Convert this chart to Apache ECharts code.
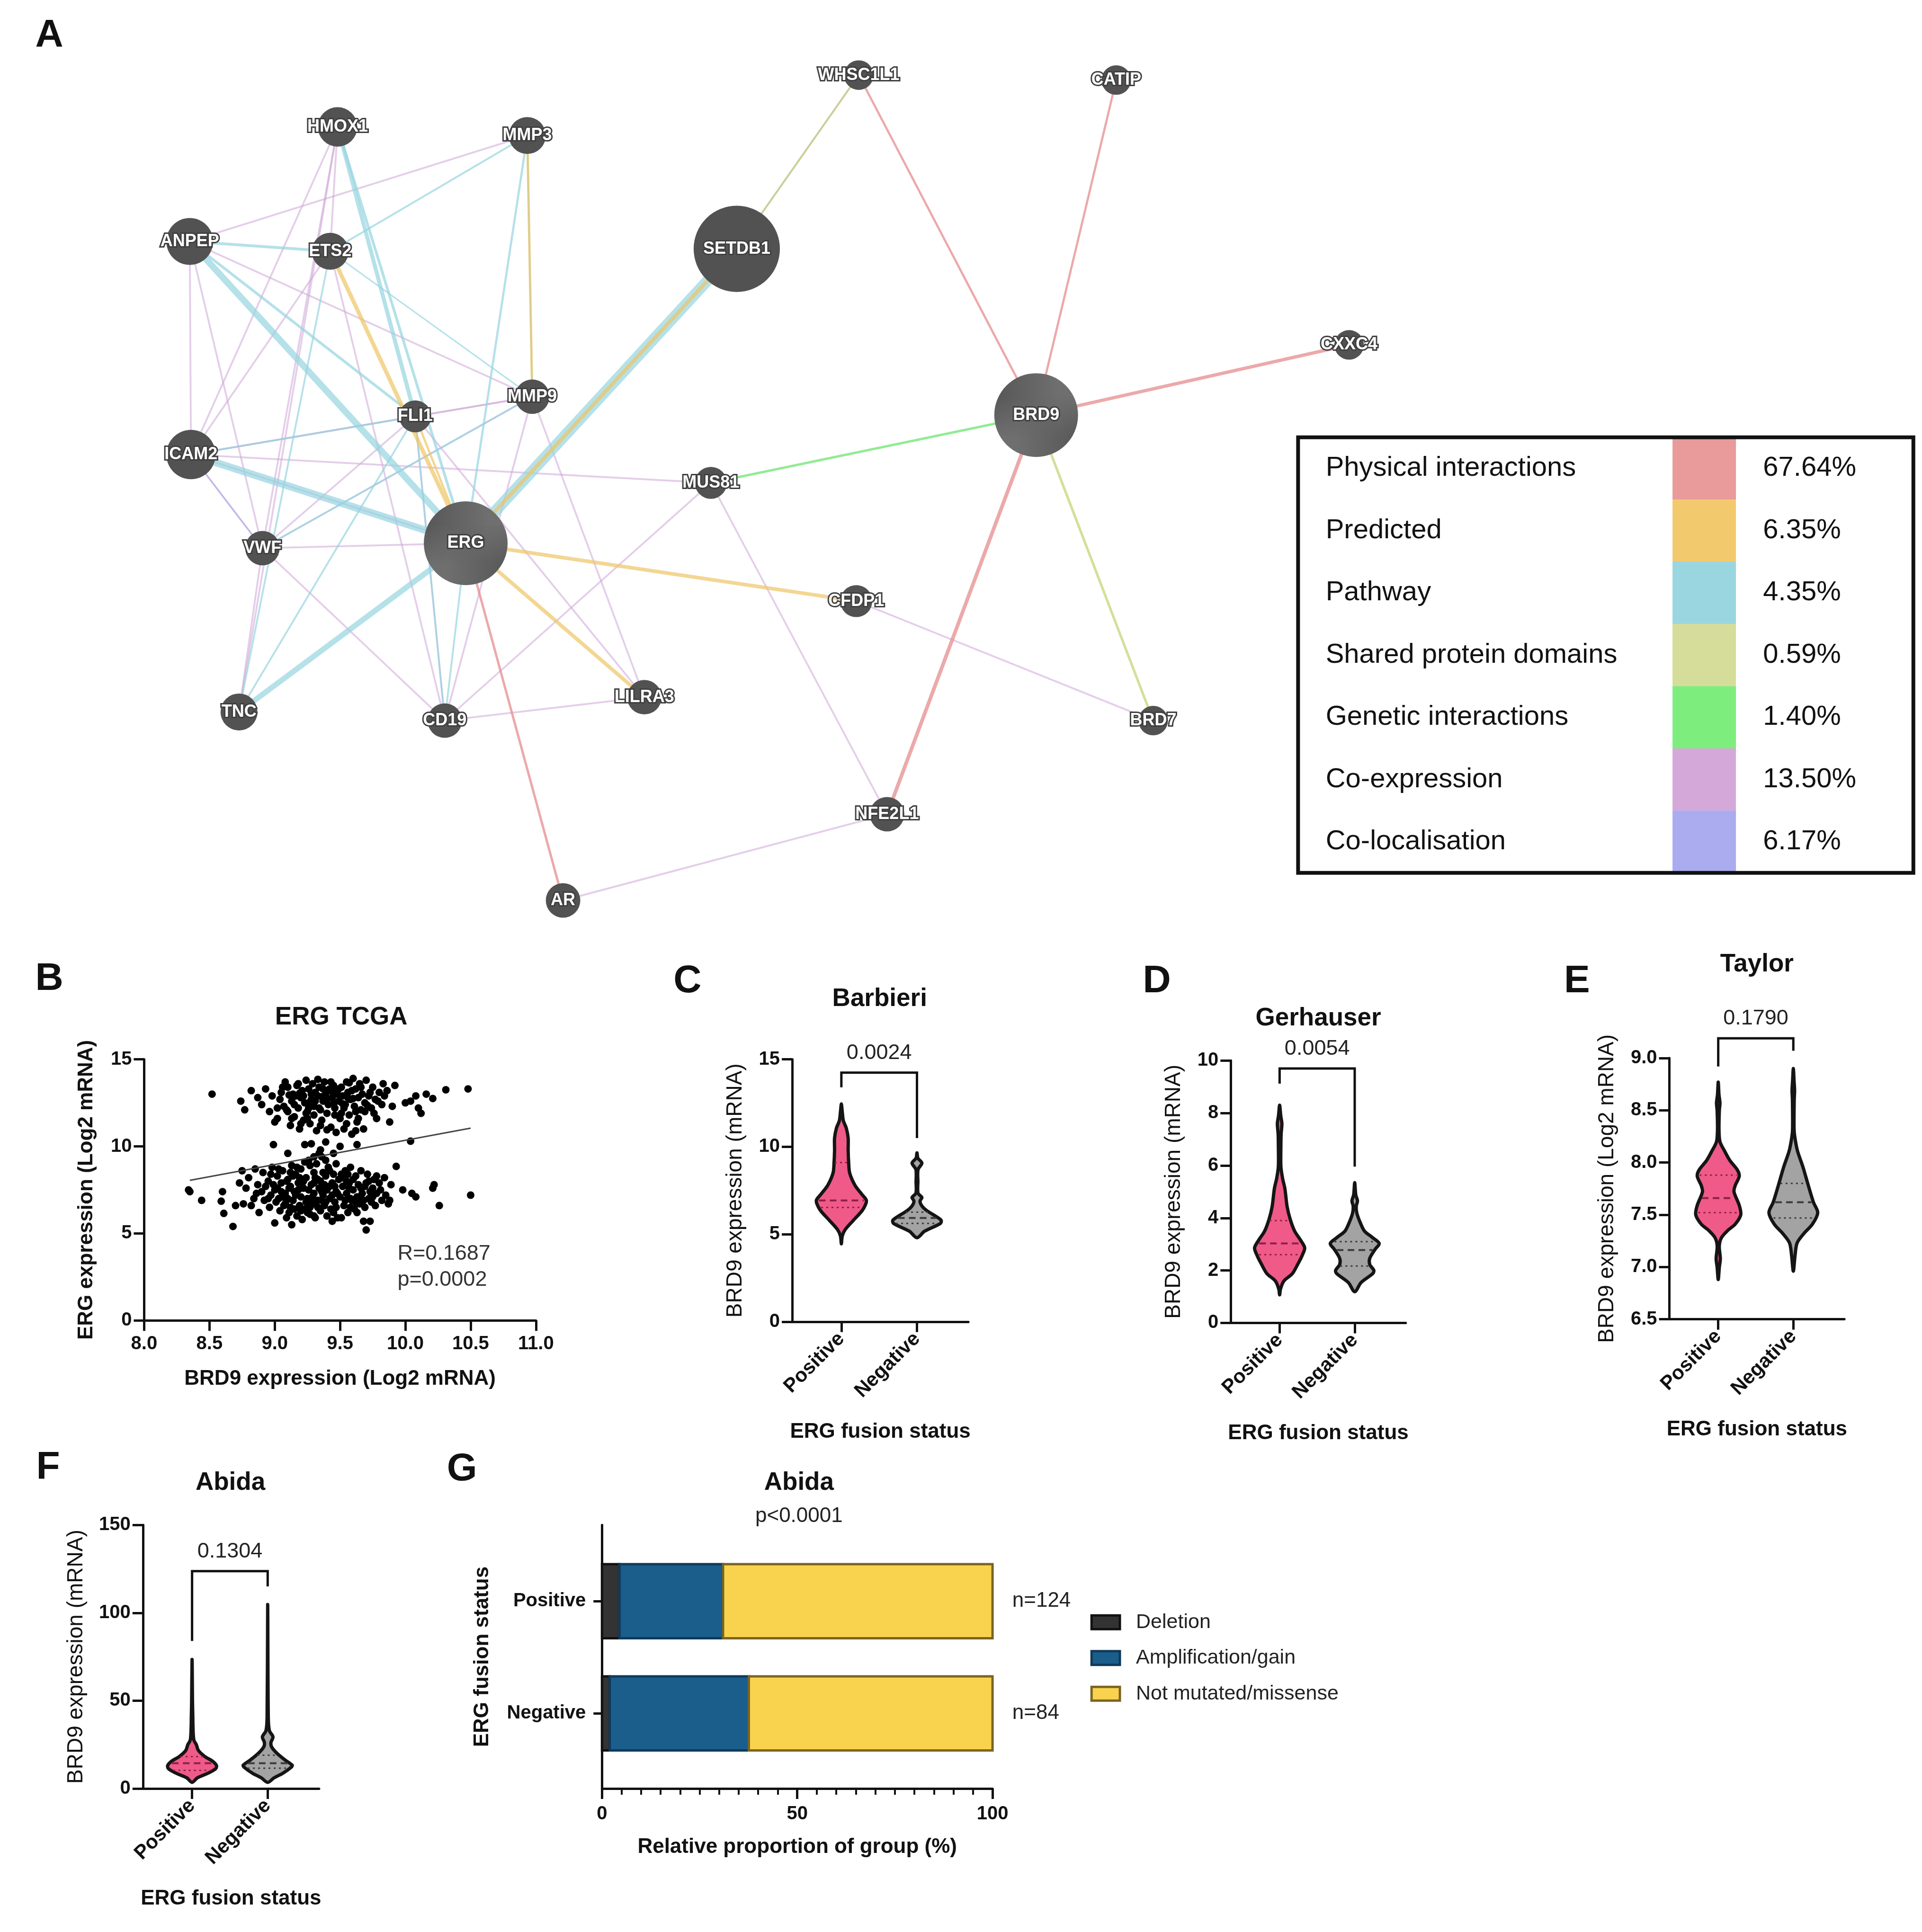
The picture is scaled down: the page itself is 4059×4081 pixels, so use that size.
<!DOCTYPE html>
<html>
<head>
<meta charset="utf-8">
<title>ERG / BRD9 figure</title>
<script src="https://cdn.jsdelivr.net/npm/echarts@6.0.0/dist/echarts.min.js"></script>
<style>
html,body{margin:0;padding:0;background:#ffffff;}
#chart{width:4059px;height:4081px;}
</style>
</head>
<body>
<div id="chart"></div>
<script>
// ===================== DATA =====================
// Panel A - network (GeneMANIA style)
const geneNames = ['HMOX1','MMP3','ANPEP','ETS2','SETDB1','WHSC1L1','CATIP','CXXC4','BRD9','FLI1','MMP9','ICAM2','MUS81','VWF','ERG','CFDP1','TNC','CD19','LILRA3','BRD7','NFE2L1','AR'];
const layoutX  = [274,428,154,268,598,697,906,1095,841,337,432,155,577,213,378,695,194,361,523,936,720,457];
const layoutY  = [103,110,196,204,202,61,65,280,337,338,322,369,392,445,441,488,578,585,566,585,661,731];
const geneScore = [16,15,19,15,35,12,12,12,34,13,14,20,13,14,34,13,15,14,14,12,14,14];
const queryGenes = ['ERG','BRD9'];

const physicalEdges  = [['WHSC1L1','BRD9',1.2],['CATIP','BRD9',1.2],['CXXC4','BRD9',1.8],['BRD9','NFE2L1',2],['ERG','AR',1.3]];
const predictedEdges = [['ERG','SETDB1',2],['ERG','CFDP1',2],['ERG','LILRA3',2],['ETS2','ERG',2.2],['MMP3','MMP9',1.3],['FLI1','ERG',1.2]];
const pathwayEdges   = [['ERG','SETDB1',6],['ANPEP','ERG',3.5],['ICAM2','ERG',4],['TNC','ERG',3],['HMOX1','FLI1',2.2],['HMOX1','ERG',1.5],['MMP3','ERG',1.2],['MMP3','MMP9',1],['MMP3','ETS2',1],['ANPEP','ETS2',1.5],['ANPEP','FLI1',1.5],['ETS2','TNC',1],['ETS2','MMP9',0.8],['TNC','FLI1',1],['CD19','ERG',1],['CD19','FLI1',1],['VWF','MMP9',1],['ICAM2','FLI1',1]];
const sharedEdges    = [['SETDB1','WHSC1L1',1],['BRD9','BRD7',1.4]];
const geneticEdges   = [['MUS81','BRD9',1.3]];
const coexpEdges     = [['ANPEP','MMP3',1],['HMOX1','ICAM2',1],['HMOX1','VWF',1],['HMOX1','ETS2',1],['ANPEP','VWF',1],['ANPEP','MMP9',1],['ICAM2','FLI1',1],['ICAM2','MMP9',1],['ICAM2','VWF',1],['ICAM2','ERG',1],['ICAM2','MUS81',1],['VWF','ERG',1],['VWF','FLI1',1],['VWF','CD19',1],['VWF','TNC',1],['VWF','MMP9',1],['ETS2','ICAM2',1],['ETS2','CD19',1],['FLI1','CD19',1],['FLI1','MMP9',1],['FLI1','LILRA3',1],['MMP9','LILRA3',1],['MMP9','CD19',1],['MUS81','CD19',1],['MUS81','NFE2L1',1],['CD19','LILRA3',1],['CFDP1','BRD7',1],['NFE2L1','AR',1],['SETDB1','WHSC1L1',1],['TNC','HMOX1',1],['ANPEP','ICAM2',1]];
const colocEdges     = [['SETDB1','WHSC1L1',0.8],['ICAM2','VWF',0.8]];

const netTypes  = ['Physical interactions','Predicted','Pathway','Shared protein domains','Genetic interactions','Co-expression','Co-localisation'];
const netPct    = ['67.64%','6.35%','4.35%','0.59%','1.40%','13.50%','6.17%'];

// Panel B - ERG TCGA scatter
const bScatter = [
[8.52,13.0],[8.74,12.6],[8.77,12.1],[8.82,13.2],[8.87,12.8],[8.93,13.3],[8.9,12.4],[8.96,12.0],[8.98,12.9],[9.0,11.4],[9.02,11.6],[9.04,12.7],[9.05,13.1],[9.07,12.3],[9.08,13.7],[9.1,13.4],[9.1,12.0],[9.12,11.2],[9.13,12.6],[9.14,13.0],[9.15,11.7],[9.16,12.9],[9.17,13.5],[9.18,12.2],[9.19,11.0],[9.2,12.8],[9.21,13.2],[9.22,11.5],[9.23,12.5],[9.24,13.8],[9.25,12.0],[9.26,13.3],[9.27,11.3],[9.28,12.7],[9.29,13.6],[9.3,12.3],[9.3,11.8],[9.31,13.1],[9.32,10.9],[9.33,12.9],[9.34,13.4],[9.35,12.1],[9.36,11.5],[9.37,12.6],[9.38,13.7],[9.39,13.0],[9.4,11.9],[9.41,12.4],[9.42,13.3],[9.43,11.1],[9.44,12.8],[9.45,13.5],[9.46,12.2],[9.47,10.8],[9.48,13.0],[9.49,12.6],[9.5,11.6],[9.51,13.4],[9.52,12.9],[9.53,11.0],[9.54,12.4],[9.55,13.7],[9.56,13.1],[9.57,11.8],[9.58,12.7],[9.59,10.7],[9.6,13.9],[9.61,12.3],[9.62,13.3],[9.63,11.4],[9.64,12.8],[9.65,13.6],[9.66,12.1],[9.67,13.0],[9.68,11.0],[9.69,12.5],[9.7,13.8],[9.72,12.9],[9.74,12.2],[9.75,13.4],[9.77,12.7],[9.78,11.6],[9.8,13.1],[9.82,12.4],[9.84,12.9],[9.86,13.2],[9.88,11.4],[9.9,12.3],[9.92,13.5],[10.0,12.5],[10.04,12.6],[10.08,12.9],[10.12,11.9],[10.1,12.2],[10.16,13.0],[10.21,12.75],[10.31,13.25],[10.48,13.3],[9.02,12.2],[9.11,12.95],[9.19,13.05],[9.27,12.55],[9.36,12.85],[9.44,13.15],[9.52,12.45],[9.6,12.75],[9.71,12.35],[9.33,13.85],[9.57,13.65],[9.13,11.6],[9.4,10.95],[9.55,11.3],[9.62,10.9],[9.24,11.9],
[9.06,13.4],[9.09,12.1],[9.15,12.4],[9.18,13.6],[9.22,12.9],[9.25,11.6],[9.28,13.0],[9.31,12.6],[9.34,12.2],[9.37,13.3],[9.4,12.7],[9.43,13.7],[9.46,11.8],[9.49,13.3],[9.53,12.2],[9.56,12.8],[9.59,13.2],[9.62,12.0],[9.66,13.4],[9.69,12.0],[9.73,13.1],[9.76,11.9],[9.79,12.6],[9.83,13.6],[9.26,12.2],[9.35,11.2],[9.45,12.45],[9.51,11.9],[9.64,11.6],[9.2,11.3],
[8.99,10.1],[9.23,10.1],[9.28,10.15],[9.39,10.25],[9.5,10.0],[9.63,10.1],[9.1,9.6],[10.04,10.3],[9.35,9.8],[9.45,9.6],[9.3,9.4],
[8.34,7.5],[8.35,7.4],[8.44,6.9],[8.6,7.4],[8.59,6.85],[8.61,6.15],[8.68,5.4],[8.7,6.6],[8.73,7.9],[8.75,8.6],[8.76,6.7],[8.78,7.6],[8.8,8.2],[8.82,6.6],[8.84,7.0],[8.85,8.7],[8.87,7.8],[8.88,6.2],[8.9,7.4],[8.91,8.5],[8.92,6.9],[8.93,7.7],[8.95,8.0],[8.96,6.5],[8.97,7.2],[8.98,8.8],[9.0,5.6],[9.0,7.5],[9.01,6.8],[9.02,8.3],[9.03,7.0],[9.04,6.3],[9.05,7.9],[9.06,8.6],[9.07,6.6],[9.08,7.3],[9.09,5.9],[9.1,8.1],[9.1,7.0],[9.11,6.2],[9.12,7.7],[9.13,5.5],[9.13,8.9],[9.14,6.9],[9.15,7.4],[9.16,8.4],[9.17,6.0],[9.18,7.9],[9.19,6.6],[9.2,7.1],[9.2,8.7],[9.21,5.8],[9.22,7.6],[9.23,6.4],[9.24,8.2],[9.25,7.0],[9.26,9.2],[9.27,6.1],[9.28,7.8],[9.29,6.7],[9.3,8.5],[9.3,7.3],[9.31,5.9],[9.32,9.0],[9.33,6.9],[9.34,7.6],[9.35,8.0],[9.35,6.3],[9.36,9.4],[9.37,7.2],[9.38,6.6],[9.39,8.3],[9.4,7.5],[9.4,6.0],[9.41,8.8],[9.42,7.0],[9.43,6.4],[9.44,7.9],[9.45,8.4],[9.46,6.8],[9.47,7.4],[9.48,5.9],[9.49,8.1],[9.5,7.1],[9.51,5.9],[9.52,7.7],[9.53,6.6],[9.54,8.6],[9.55,7.3],[9.56,6.2],[9.57,7.9],[9.58,8.8],[9.59,6.9],[9.6,7.5],[9.61,6.4],[9.62,8.3],[9.63,7.1],[9.64,7.8],[9.65,6.7],[9.66,8.6],[9.67,7.3],[9.68,5.7],[9.69,6.5],[9.7,5.2],[9.7,7.9],[9.71,8.4],[9.72,7.0],[9.73,5.7],[9.74,6.8],[9.75,7.6],[9.76,8.1],[9.77,6.6],[9.78,7.3],[9.8,7.9],[9.82,6.9],[9.84,8.2],[9.85,7.2],[9.87,6.7],[9.88,6.9],[9.89,7.8],[9.93,8.85],[9.98,7.5],[10.05,7.3],[10.08,7.1],[10.22,7.8],[10.21,7.6],[10.26,6.6],[10.5,7.2],[9.06,7.1],[9.16,7.2],[9.26,7.5],[9.33,8.1],[9.44,7.2],[9.11,7.6],[9.21,7.9],[9.29,7.1],[9.38,7.8],[9.46,7.7],[9.09,8.0],[9.19,8.2],[9.24,6.8],[9.36,6.9],[9.52,8.2],[9.58,7.0],[9.66,7.6],[9.02,7.6],[9.14,8.3],[9.31,8.2],[9.42,8.6],[9.56,8.4],[9.23,9.1],[9.34,9.6],[9.39,9.2],[8.97,8.4],[8.86,7.3],[9.08,6.7],[9.27,6.5],[9.47,6.5],[9.62,6.8],[9.73,7.4],
[9.05,7.4],[9.09,6.9],[9.12,8.5],[9.15,6.4],[9.18,7.5],[9.22,8.0],[9.25,6.2],[9.28,7.0],[9.3,7.9],[9.33,6.5],[9.36,7.4],[9.39,6.8],[9.42,7.7],[9.45,6.2],[9.48,7.3],[9.51,8.4],[9.54,6.9],[9.57,7.6],[9.6,8.1],[9.63,6.2],[9.66,7.0],[9.69,7.7],[9.72,8.0],[9.75,7.1],[9.78,8.3],[9.81,7.5],[8.95,7.0],[8.99,7.8],[9.03,8.7],[9.17,8.8],[9.27,8.9],[9.37,8.5],[9.47,9.0],[9.55,8.0],[9.2,6.3],[9.3,6.0],[9.44,5.7],[9.12,6.5],[9.58,6.5],[9.68,6.9]
];
const bFitLine = [[8.35,8.05],[10.5,11.05]];
const bStats = [[9.94,3.82,'R=0.1687'],[9.94,2.33,'p=0.0002']];

// Violin panels: profiles [value, half-width in group units]; quartiles [Q1, median, Q3]
const groupNames = ['Positive','Negative'];
const cPosProfile = [[4.45,0],[4.9,0.012],[5.26,0.05],[5.8,0.16],[6.35,0.275],[6.7,0.32],[6.95,0.33],[7.26,0.275],[7.8,0.18],[8.5,0.11],[9.07,0.097],[9.8,0.09],[10.5,0.09],[11.07,0.065],[11.5,0.026],[12.0,0.012],[12.45,0]];
const cNegProfile = [[4.8,0],[5.17,0.1],[5.62,0.31],[5.8,0.32],[6.08,0.23],[6.35,0.13],[6.62,0.065],[6.9,0.04],[7.1,0.065],[7.35,0.014],[8.0,0.012],[8.7,0.014],[9.07,0.065],[9.35,0.012],[9.65,0]];
const cPosQuart = [6.53,6.93,9.1];
const cNegQuart = [5.62,5.93,6.26];
const cBracket = ['0.0024',13.4,14.24,10.5];

const dPosProfile = [[1.07,0],[1.3,0.012],[1.6,0.057],[1.88,0.17],[2.23,0.24],[2.57,0.3],[2.86,0.334],[3.15,0.28],[3.5,0.2],[3.96,0.14],[4.43,0.1],[5.12,0.07],[5.5,0.04],[5.96,0.017],[6.77,0.017],[7.2,0.02],[7.6,0.03],[7.9,0.015],[8.3,0]];
const dNegProfile = [[1.19,0],[1.54,0.085],[1.88,0.24],[2.0,0.255],[2.23,0.2],[2.46,0.2],[2.8,0.27],[3.03,0.326],[3.27,0.23],[3.5,0.13],[3.85,0.07],[4.19,0.028],[4.45,0.02],[4.65,0.037],[4.88,0.014],[5.35,0]];
const dPosQuart = [2.6,3.03,3.9];
const dNegQuart = [2.17,2.78,3.1];
const dBracket = ['0.0054',9.12,9.7,5.96];

const ePosProfile = [[6.88,0],[7.0,0.015],[7.08,0.028],[7.2,0.014],[7.28,0.042],[7.35,0.127],[7.41,0.226],[7.5,0.3],[7.59,0.28],[7.72,0.21],[7.78,0.226],[7.87,0.28],[7.93,0.254],[8.02,0.155],[8.11,0.085],[8.2,0.023],[8.32,0.01],[8.5,0.015],[8.57,0.023],[8.65,0.01],[8.77,0]];
const eNegProfile = [[6.96,0],[7.11,0.023],[7.23,0.05],[7.32,0.14],[7.41,0.254],[7.52,0.325],[7.62,0.268],[7.78,0.2],[7.96,0.127],[8.11,0.056],[8.23,0.023],[8.32,0.01],[8.6,0.012],[8.69,0.017],[8.78,0.01],[8.9,0]];
const ePosQuart = [7.52,7.66,7.88];
const eNegQuart = [7.47,7.62,7.8];
const eBracket = ['0.1790',8.92,9.19,9.07];

const fPosProfile = [[3.5,0],[6.1,0.07],[8.7,0.21],[11.2,0.31],[13,0.324],[15.6,0.27],[18.2,0.17],[21.6,0.085],[25,0.056],[27.7,0.023],[35.5,0.012],[40.7,0.01],[49,0.006],[73.5,0]];
const fNegProfile = [[3.5,0],[6.1,0.085],[8.7,0.2],[12.1,0.31],[13.3,0.324],[16.4,0.225],[19.9,0.127],[23.4,0.056],[26,0.042],[29.4,0.07],[32.9,0.023],[40.7,0.008],[104.7,0]];
const fPosQuart = [10.4,14.4,18.2];
const fNegQuart = [11.6,14.4,19.0];
const fBracket = ['0.1304',84,123.7,115];

// Panel G - stacked proportions (%)
const gTypes = ['Deletion','Amplification/gain','Not mutated/missense'];
const gPositive = [4.5,26.5,69.0];
const gNegative = [2.0,35.6,62.4];
const gCounts = ['n=124','n=84'];

// ===================== STYLE / LAYOUT =====================
const S = 4059/1560;
const P = v => v*S;
const FONT = '"Liberation Sans", Arial, Helvetica, sans-serif';
const INK = '#111111';
const netColors = ['#E99A9B','#F3C96D','#9AD6DF','#D6DD9B','#7DEE7E','#D4A9D9','#AAACEF'];
const edgeColors = ['rgba(229,140,142,0.75)','rgba(238,196,100,0.7)','rgba(150,212,224,0.7)','rgba(205,214,130,0.8)','rgba(110,228,112,0.75)','rgba(205,165,215,0.55)','rgba(160,162,235,0.55)'];
const pink = '#EF5A88', grey = '#A3A3A3';
const gFill = ['#333333','#1B5E8C','#FAD34E'];
const gStroke = ['#111111','#0F3A5A','#7A6424'];

function merge(a,b){
  const r = Object.assign({}, a);
  for (const k in b){
    const v = b[k];
    if (v && typeof v === 'object' && !Array.isArray(v) && r[k] && typeof r[k] === 'object' && !Array.isArray(r[k])) r[k] = merge(r[k], v);
    else r[k] = v;
  }
  return r;
}
const baseAxis = {
  type:'value', splitLine:{show:false},
  axisLine:{show:true,onZero:false,lineStyle:{color:INK,width:5}},
  axisTick:{show:true,length:22,lineStyle:{color:INK,width:5}},
  axisLabel:{color:INK,fontFamily:FONT,fontWeight:'bold',fontSize:40,margin:26},
  nameLocation:'middle',
  nameTextStyle:{color:INK,fontFamily:FONT,fontWeight:'bold',fontSize:44}
};

// hatch pattern for query genes
function makeHatch(){
  const c = document.createElement('canvas'); c.width = 16; c.height = 16;
  const g = c.getContext('2d');
  g.fillStyle = '#4f4f4f'; g.fillRect(0,0,16,16);
  g.strokeStyle = '#6f6f6f'; g.lineWidth = 3; g.beginPath();
  for (let k=-16;k<=32;k+=16){ g.moveTo(k,16); g.lineTo(k+16,0); }
  g.stroke();
  return c;
}
const hatch = {image: makeHatch(), repeat:'repeat'};

// ===================== GRIDS =====================
const grids = [
  {left:0, top:0, width:P(1560), height:P(750)},                 // A
  {left:P(117), top:P(860), width:P(318), height:P(212)},        // B
  {left:P(643), top:P(860), width:P(143), height:P(213)},        // C
  {left:P(999), top:P(861), width:P(142), height:P(213)},        // D
  {left:P(1355), top:P(859), width:P(142), height:P(212)},       // E
  {left:P(116), top:P(1238), width:P(143), height:P(214)},       // F
  {left:P(488.6), top:P(1238), width:P(317), height:P(214)}      // G
].map(g => Object.assign({containLabel:false, outerBoundsMode:'none'}, g));

function violinX(gi){
  return merge(baseAxis, {gridIndex:gi, min:0.35, max:2.68, name:'ERG fusion status', nameGap:211,
    axisTick:{customValues:[1,2]},
    axisLabel:{customValues:[1,2], rotate:45, margin:30, fontSize:42, formatter:v => groupNames[Math.round(v)-1]}});
}
function violinY(gi, min, max, interval, name, gap, dec){
  return merge(baseAxis, {gridIndex:gi, min, max, interval, name, nameGap:gap,
    nameTextStyle:{fontWeight:'normal', fontSize:46},
    axisLabel:{formatter: v => dec ? v.toFixed(dec) : String(v)}});
}

const xAxes = [
  {gridIndex:0, type:'value', min:0, max:1560, show:false},
  merge(baseAxis, {gridIndex:1, min:8, max:11, interval:0.5, name:'BRD9 expression (Log2 mRNA)', nameGap:102, axisLabel:{margin:30, formatter:v=>v.toFixed(1)}}),
  violinX(2), violinX(3), violinX(4), violinX(5),
  merge(baseAxis, {gridIndex:6, min:0, max:100, interval:50, name:'Relative proportion of group (%)', nameGap:102,
    axisLabel:{margin:34}, minorTick:{show:true, splitNumber:10, length:13, lineStyle:{color:INK,width:4}}})
];
const yAxes = [
  {gridIndex:0, type:'value', min:0, max:750, inverse:true, show:false},
  merge(baseAxis, {gridIndex:1, min:0, max:15, interval:5, name:'ERG expression (Log2 mRNA)', nameGap:100}),
  violinY(2, 0, 15, 5, 'BRD9 expression (mRNA)', 97, 0),
  violinY(3, 0, 10, 2, 'BRD9 expression (mRNA)', 97, 0),
  violinY(4, 6.5, 9, 0.5, 'BRD9 expression (Log2 mRNA)', 108, 1),
  violinY(5, 0, 150, 50, 'BRD9 expression (mRNA)', 118, 0),
  merge(baseAxis, {gridIndex:6, min:0.33, max:2.68, name:'ERG fusion status', nameGap:230,
    axisTick:{customValues:[1,2], length:18},
    axisLabel:{customValues:[1,2], margin:34, formatter:v => groupNames[groupNames.length - Math.round(v)]}})
];

// ===================== SERIES =====================
const series = [];

// --- A: network graph
const edgeSets = [physicalEdges, predictedEdges, pathwayEdges, sharedEdges, geneticEdges, coexpEdges, colocEdges];
const drawOrder = [5,6,3,2,1,4,0];
const links = [];
drawOrder.forEach(t => edgeSets[t].forEach(([s,e,w]) => links.push({source:s, target:e, lineStyle:{color:edgeColors[t], width:w*P(1.5), opacity:1, curveness:0}})));
series.push({
  type:'graph', coordinateSystem:'cartesian2d', xAxisIndex:0, yAxisIndex:0, layout:'none', silent:true, z:2,
  data: geneNames.map((n,i) => ({name:n, value:[layoutX[i], layoutY[i]], symbolSize:P(geneScore[i]*2),
    itemStyle:{color: queryGenes.includes(n) ? hatch : '#525252'}})),
  links,
  symbol:'circle',
  label:{show:true, position:'inside', color:'#ffffff', fontFamily:FONT, fontWeight:'bold', fontSize:36, textBorderColor:'#404040', textBorderWidth:6},
  lineStyle:{opacity:1},
  emphasis:{disabled:true}
});

// --- B: scatter + fit
series.push({type:'scatter', xAxisIndex:1, yAxisIndex:1, data:bScatter, symbolSize:16, itemStyle:{color:'#000000', opacity:1}, silent:true, z:3});
series.push({type:'line', xAxisIndex:1, yAxisIndex:1, data:bFitLine, symbol:'none', lineStyle:{color:'#444444', width:3}, silent:true, z:4});
series.push({type:'custom', xAxisIndex:1, yAxisIndex:1, data:bStats, silent:true, z:5, clip:false,
  renderItem:(p, api) => {
    const pt = api.coord([api.value(0), api.value(1)]);
    return {type:'text', x:pt[0], y:pt[1], style:{text:bStats[p.dataIndex][2], fontFamily:FONT, fontSize:45, fill:'#333333', align:'left', verticalAlign:'middle'}};
  }});

// --- violins
function interpW(profile, y){
  for (let i=0;i<profile.length-1;i++){
    const [y0,w0] = profile[i], [y1,w1] = profile[i+1];
    if (y >= y0 && y <= y1) return w0 + (w1-w0)*(y-y0)/(y1-y0);
  }
  return 0;
}
function violinSeries(gi, xPos, profile, quart, fill, qColor){
  return {type:'custom', xAxisIndex:gi, yAxisIndex:gi, clip:false, silent:true, z:3,
    data:[[xPos, quart[1]]],
    renderItem:(params, api) => {
      const right = profile.map(([y,w]) => api.coord([xPos+w, y]));
      const left = profile.slice(1, -1).reverse().map(([y,w]) => api.coord([xPos-w, y]));
      const children = [{type:'polygon', shape:{points:right.concat(left), smooth:0.3},
        style:{fill, stroke:'#151515', lineWidth:7, lineJoin:'round'}}];
      quart.forEach((q,i) => {
        const w = interpW(profile, q)*0.9;
        const a = api.coord([xPos-w, q]), b = api.coord([xPos+w, q]);
        children.push({type:'line', shape:{x1:a[0], y1:a[1], x2:b[0], y2:b[1]},
          style:{stroke:qColor, lineWidth: i===1 ? 4 : 3, lineDash: i===1 ? [14,9] : [4,7]}});
      });
      return {type:'group', children};
    }};
}
function bracketSeries(gi, br){
  return {type:'custom', xAxisIndex:gi, yAxisIndex:gi, clip:false, silent:true, z:5,
    data:[[1.5, br[2]]],
    renderItem:(params, api) => {
      const a = api.coord([1, br[1]]), b = api.coord([1, br[2]]), c = api.coord([2, br[2]]), d = api.coord([2, br[3]]);
      return {type:'group', children:[
        {type:'polyline', shape:{points:[a,b,c,d]}, style:{stroke:INK, lineWidth:5, fill:null}},
        {type:'text', x:(b[0]+c[0])/2, y:b[1]-P(16), style:{text:br[0], fontFamily:FONT, fontSize:45, fill:'#222222', align:'center', verticalAlign:'middle'}}
      ]};
    }};
}
[[2,cPosProfile,cNegProfile,cPosQuart,cNegQuart,cBracket],
 [3,dPosProfile,dNegProfile,dPosQuart,dNegQuart,dBracket],
 [4,ePosProfile,eNegProfile,ePosQuart,eNegQuart,eBracket],
 [5,fPosProfile,fNegProfile,fPosQuart,fNegQuart,fBracket]].forEach(([gi,pp,np,pq,nq,br]) => {
  series.push(violinSeries(gi, 1, pp, pq, pink, '#8E1F45'));
  series.push(violinSeries(gi, 2, np, nq, grey, '#3a3a3a'));
  series.push(bracketSeries(gi, br));
});

// --- G: stacked horizontal proportions
const gRows = [gPositive, gNegative];
gTypes.forEach((t,k) => {
  series.push({type:'custom', name:t, xAxisIndex:6, yAxisIndex:6, silent:true, z:3,
    itemStyle:{color:gFill[k], borderColor:gStroke[k], borderWidth:5},
    encode:{x:[0,1], y:2},
    data: gRows.map((row,i) => { const s = row.slice(0,k).reduce((a,b)=>a+b,0); return [s, s+row[k], gRows.length - i]; }),
    renderItem:(params, api) => {
      const a = api.coord([api.value(0), api.value(2)]), b = api.coord([api.value(1), api.value(2)]);
      const h = api.size([0, 0.66])[1];
      return {type:'rect', shape:{x:a[0], y:a[1]-h/2, width:b[0]-a[0], height:h},
        style:{fill:gFill[k], stroke:gStroke[k], lineWidth:5}};
    }});
});
series.push({type:'custom', xAxisIndex:6, yAxisIndex:6, silent:true, clip:false, z:5,
  data: gCounts.map((c,i) => [100, gRows.length - i]),
  renderItem:(params, api) => {
    const pt = api.coord([api.value(0), api.value(1)]);
    return {type:'text', x:pt[0]+P(16), y:pt[1], style:{text:gCounts[params.dataIndex], fontFamily:FONT, fontSize:44, fill:'#222222', align:'left', verticalAlign:'middle'}};
  }});

// ===================== GRAPHIC (letters, titles, A legend table) =====================
const elements = [];
[['A',40,29],['B',40,795],['C',558,797],['D',939,797],['E',1280,797],['F',39,1192],['G',375,1193]].forEach(([t,x,y]) =>
  elements.push({type:'text', x:P(x), y:P(y), style:{text:t, fontFamily:FONT, fontWeight:'bold', fontSize:82, fill:INK, align:'center', verticalAlign:'middle'}}));
[['ERG TCGA',277,826],['Barbieri',714,811],['Gerhauser',1070,827],['Taylor',1426,783],['Abida',187,1204],['Abida',648.5,1204]].forEach(([t,x,y]) =>
  elements.push({type:'text', x:P(x), y:P(y), style:{text:t, fontFamily:FONT, fontWeight:'bold', fontSize:53, fill:INK, align:'center', verticalAlign:'middle'}}));
elements.push({type:'text', x:P(648.5), y:P(1231), style:{text:'p<0.0001', fontFamily:FONT, fontSize:44, fill:'#222222', align:'center', verticalAlign:'middle'}});

const tblTop = P(355), tblH = P(353.6), rowH = tblH/netTypes.length;
netTypes.forEach((t,i) => {
  const cy = tblTop + (i+0.5)*rowH;
  elements.push({type:'rect', shape:{x:P(1357.5), y:tblTop+i*rowH, width:P(51.5), height:rowH+0.5}, style:{fill:netColors[i]}});
  elements.push({type:'text', x:P(1076), y:cy, style:{text:t, fontFamily:FONT, fontSize:58, fill:INK, align:'left', verticalAlign:'middle'}});
  elements.push({type:'text', x:P(1431), y:cy, style:{text:netPct[i], fontFamily:FONT, fontSize:58, fill:INK, align:'left', verticalAlign:'middle'}});
});
elements.push({type:'rect', shape:{x:P(1053.6), y:tblTop, width:P(499.4), height:tblH}, style:{fill:null, stroke:INK, lineWidth:8}});

// ===================== OPTION =====================
const chart = echarts.init(document.getElementById('chart'), null, {renderer:'canvas'});
chart.setOption({
  animation:false,
  backgroundColor:'#ffffff',
  textStyle:{fontFamily:FONT},
  grid: grids,
  xAxis: xAxes,
  yAxis: yAxes,
  legend: {
    orient:'vertical', left:P(885), top:P(1317)-25, padding:0, itemGap:P(29)-50,
    itemWidth:P(23), itemHeight:29, icon:'rect', selectedMode:false,
    textStyle:{fontFamily:FONT, fontSize:43, color:'#222222', lineHeight:50, padding:[0,0,0,29]},
    data: gTypes.map((t,k) => ({name:t, itemStyle:{color:gFill[k], borderColor:gStroke[k], borderWidth:5}}))
  },
  graphic:{elements},
  series
});
</script>
</body>
</html>
